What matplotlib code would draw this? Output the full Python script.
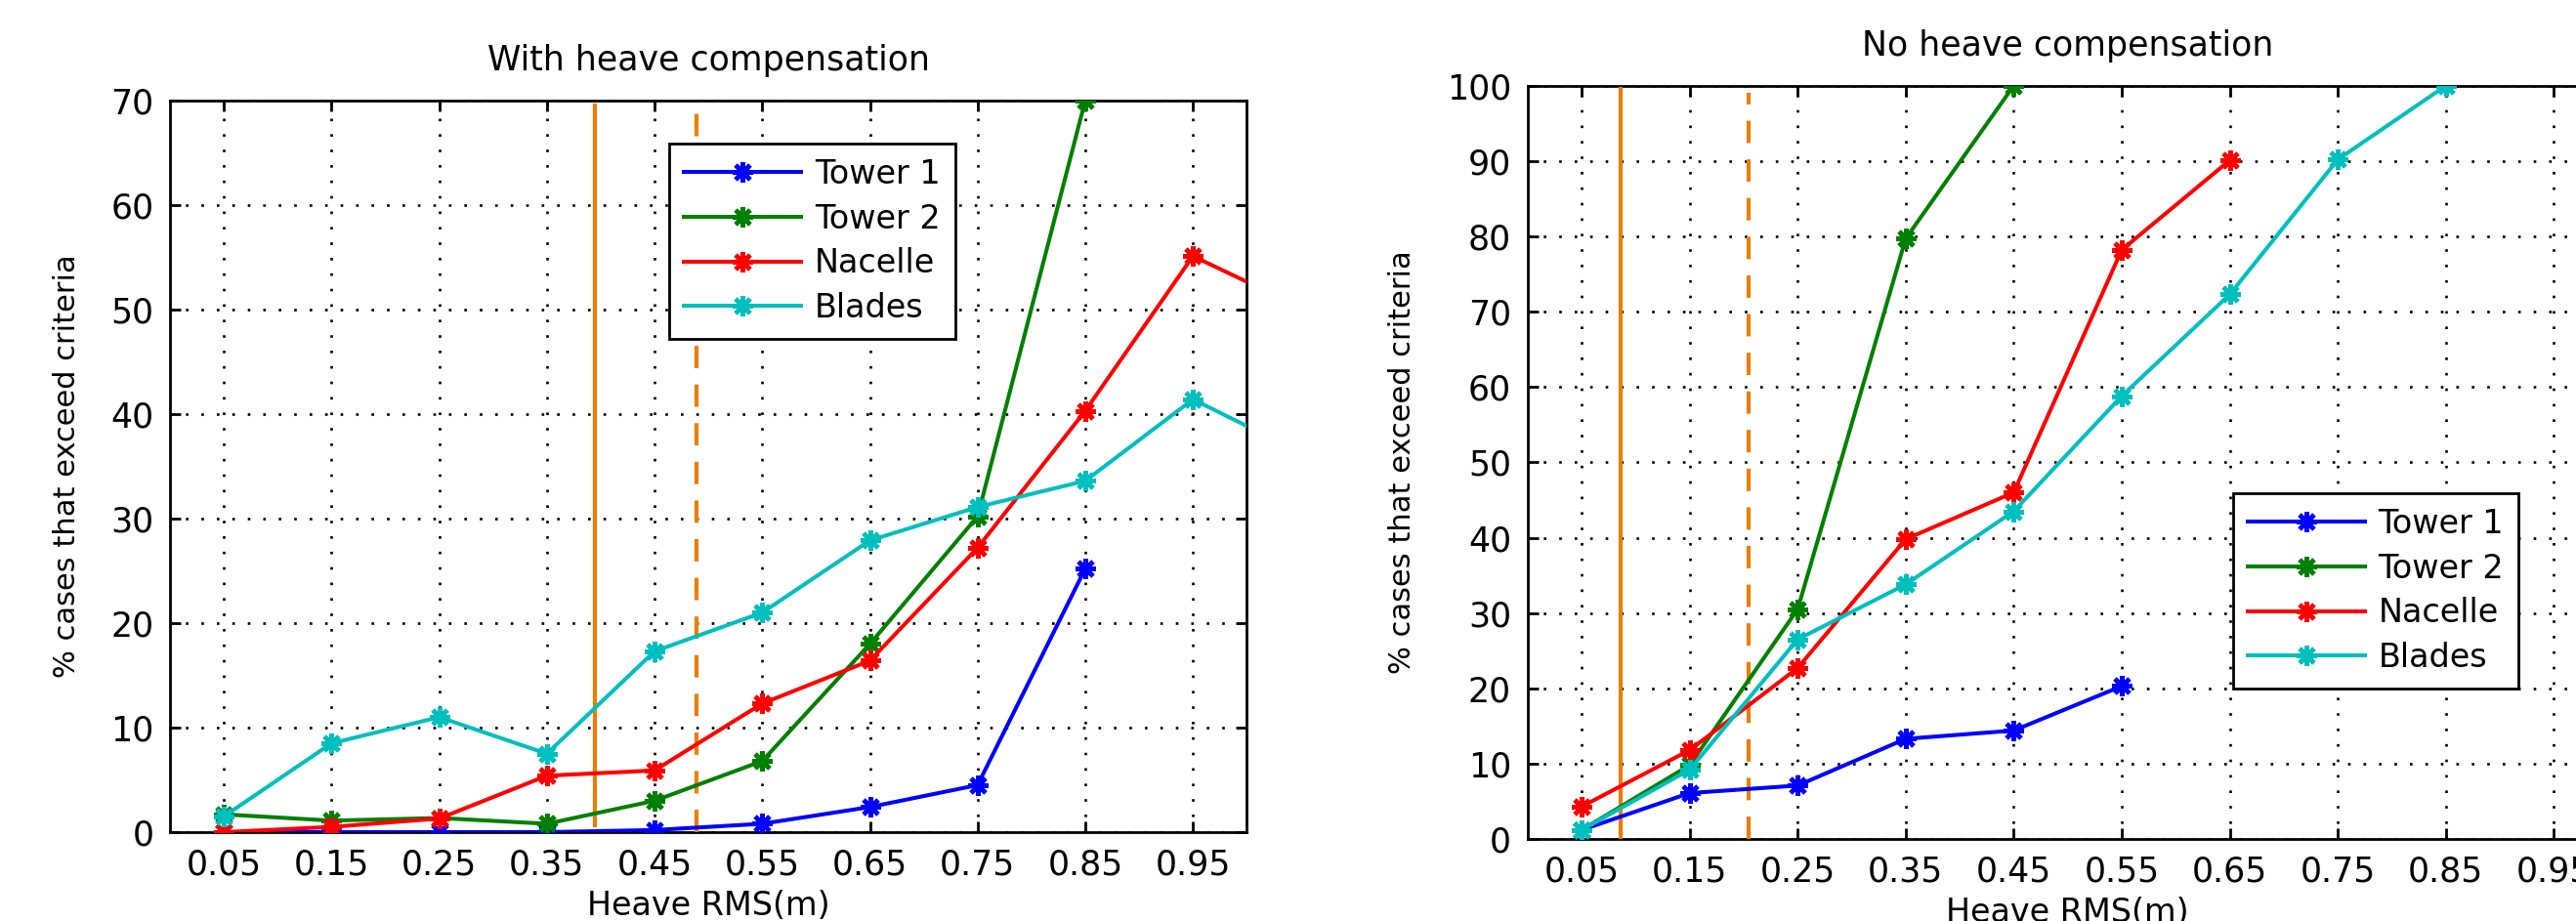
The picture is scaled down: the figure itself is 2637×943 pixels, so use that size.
import matplotlib
matplotlib.use("Agg")
import matplotlib.pyplot as plt

plt.rcParams['font.family'] = ['DejaVu Sans']

# ---- data ----
x_ticks = [0.05, 0.15, 0.25, 0.35, 0.45, 0.55, 0.65, 0.75, 0.85, 0.95]
tick_labels = ["0.05", "0.15", "0.25", "0.35", "0.45", "0.55", "0.65", "0.75", "0.85", "0.95"]
series_names = ["Tower 1", "Tower 2", "Nacelle", "Blades"]

# With heave compensation
wc_x_t1 = [0.05, 0.15, 0.25, 0.35, 0.45, 0.55, 0.65, 0.75, 0.85]
wc_t1 = [0.0, 0.0, 0.0, 0.0, 0.2, 0.8, 2.4, 4.5, 25.2]
wc_x_t2 = [0.05, 0.15, 0.25, 0.35, 0.45, 0.55, 0.65, 0.75, 0.85]
wc_t2 = [1.7, 1.1, 1.35, 0.8, 3.0, 6.8, 18.0, 30.2, 70.0]
wc_x_na = [0.05, 0.15, 0.25, 0.35, 0.45, 0.55, 0.65, 0.75, 0.85, 0.95, 1.05]
wc_na = [0.0, 0.5, 1.3, 5.4, 5.9, 12.3, 16.4, 27.2, 40.3, 55.1, 50.2]
wc_x_bl = [0.05, 0.15, 0.25, 0.35, 0.45, 0.55, 0.65, 0.75, 0.85, 0.95, 1.05]
wc_bl = [1.5, 8.5, 11.0, 7.5, 17.3, 21.0, 27.9, 31.1, 33.6, 41.4, 36.3]
wc_solid_x = 0.395
wc_solid_y = [0.7, 69.5]
wc_dash_x = 0.489
wc_dash_y = [0.0, 69.0]

# No heave compensation
nc_x_t1 = [0.05, 0.15, 0.25, 0.35, 0.45, 0.55]
nc_t1 = [1.2, 6.1, 7.1, 13.3, 14.4, 20.3]
nc_x_t2 = [0.05, 0.15, 0.25, 0.35, 0.45]
nc_t2 = [1.2, 9.8, 30.5, 79.7, 100.0]
nc_x_na = [0.05, 0.15, 0.25, 0.35, 0.45, 0.55, 0.65]
nc_na = [4.3, 11.8, 22.7, 39.8, 46.0, 78.2, 90.1]
nc_x_bl = [0.05, 0.15, 0.25, 0.35, 0.45, 0.55, 0.65, 0.75, 0.85]
nc_bl = [1.2, 9.2, 26.5, 33.8, 43.5, 58.8, 72.3, 90.2, 100.0]
nc_solid_x = 0.086
nc_solid_y = [0.0, 99.6]
nc_dash_x = 0.205
nc_dash_y = [0.0, 99.0]

colors = ['#0000FF', '#008000', '#FF0000', '#00BFBF']
orange = '#EE7D00'
FS = 24

fig = plt.figure(figsize=(26.37, 9.43), dpi=100)
ax1 = fig.add_axes([0.066, 0.0965, 0.418, 0.7945])
ax2 = fig.add_axes([0.593, 0.089, 0.4194, 0.818])


def draw(ax, xs, ys, ymax, yticks, title, solid_x, solid_y, dash_x, dash_y, legend_anchor):
    ax.plot([solid_x, solid_x], solid_y, color=orange, lw=3.0, zorder=3)
    ax.plot([dash_x, dash_x], dash_y, color=orange, lw=3.0, ls=(0, (5.5, 4)), zorder=3)
    handles = []
    for xv, yv, c, name in zip(xs, ys, colors, series_names):
        h, = ax.plot(xv, yv, color=c, lw=2.9, marker=(8, 2, 0), ms=15, mew=3.4,
                     mec=c, label=name, zorder=4)
        handles.append(h)
    ax.set_xlim(0, 1.0)
    ax.set_ylim(0, ymax)
    ax.set_xticks(x_ticks)
    ax.set_xticklabels(tick_labels)
    ax.set_yticks(yticks)
    ax.tick_params(direction='in', length=8, width=2, labelsize=FS + 1, pad=12,
                   top=True, right=True)
    ax.grid(True, color='black', ls=(0, (1, 5)), lw=1.9)
    for s in ax.spines.values():
        s.set_linewidth(2)
    ax.set_title(title, fontsize=FS + 1, pad=22)
    ax.set_xlabel('Heave RMS(m)', fontsize=FS, labelpad=6)
    ax.set_ylabel('% cases that exceed criteria', fontsize=FS - 2, labelpad=22)
    leg = ax.legend(handles=handles, loc='upper left', bbox_to_anchor=legend_anchor,
                    fontsize=FS, handlelength=3.6, handletextpad=0.4,
                    labelspacing=0.38, borderpad=0.45, borderaxespad=0,
                    fancybox=False, framealpha=1, edgecolor='black')
    leg.get_frame().set_linewidth(2)
    leg.set_zorder(5)


draw(ax1, [wc_x_t1, wc_x_t2, wc_x_na, wc_x_bl], [wc_t1, wc_t2, wc_na, wc_bl], 70,
     [0, 10, 20, 30, 40, 50, 60, 70], 'With heave compensation',
     wc_solid_x, wc_solid_y, wc_dash_x, wc_dash_y, (0.464, 0.941))
draw(ax2, [nc_x_t1, nc_x_t2, nc_x_na, nc_x_bl], [nc_t1, nc_t2, nc_na, nc_bl], 100,
     [0, 10, 20, 30, 40, 50, 60, 70, 80, 90, 100], 'No heave compensation',
     nc_solid_x, nc_solid_y, nc_dash_x, nc_dash_y, (0.653, 0.459))

fig.savefig('out.png', dpi=100)
